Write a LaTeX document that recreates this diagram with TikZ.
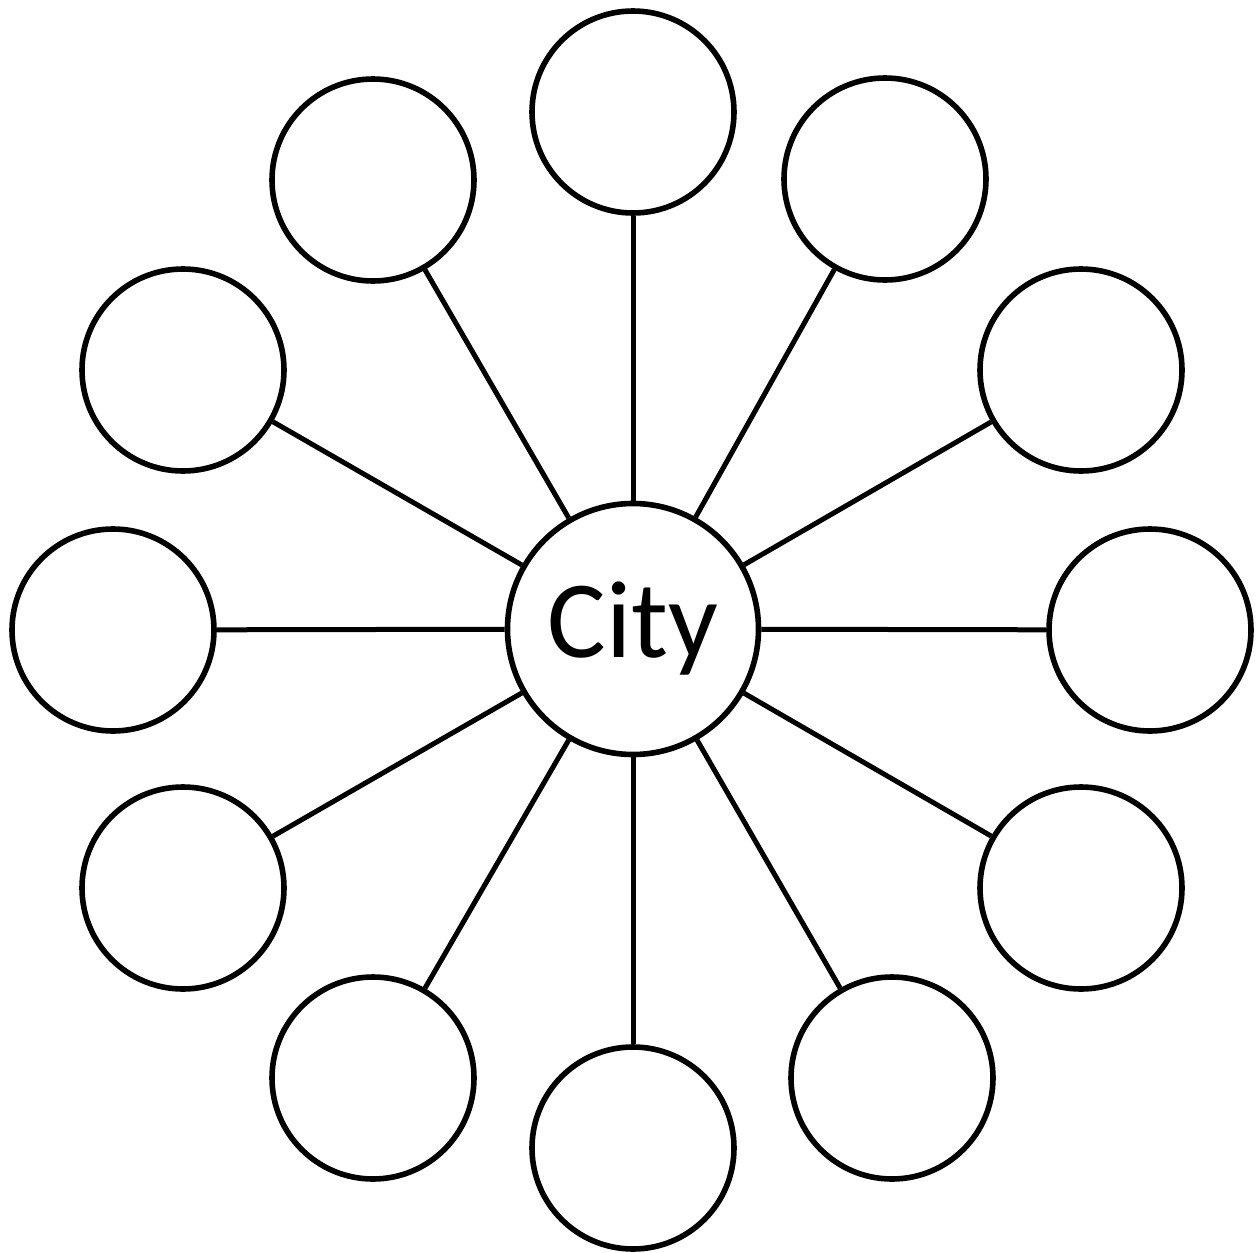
\documentclass[tikz,border=0pt]{standalone}
\usepackage{fontspec}
\setmainfont{Carlito}
\begin{document}
\begin{tikzpicture}[x=0.5pt,y=-0.5pt,
  leaf/.style={circle,draw=black,line width=2.8pt,minimum size=101pt,inner sep=0pt},
  hub/.style={circle,draw=black,line width=2.8pt,minimum size=125.5pt,inner sep=0pt,font=\fontsize{55}{60}\selectfont},
  spoke/.style={line width=2.5pt,draw=black}]
\useasboundingbox (0,0) rectangle (1260,1253);
\node[hub] (c) at (633,629) {City};
\node[leaf] (o1) at (633,112) {};
\node[leaf] (o2) at (885,179) {};
\node[leaf] (o3) at (1081,370) {};
\node[leaf] (o4) at (1150,630) {};
\node[leaf] (o5) at (1081,888) {};
\node[leaf] (o6) at (892,1078) {};
\node[leaf] (o7) at (633,1148) {};
\node[leaf] (o8) at (373,1078) {};
\node[leaf] (o9) at (183,888) {};
\node[leaf] (o10) at (113,630) {};
\node[leaf] (o11) at (183,370) {};
\node[leaf] (o12) at (373,180) {};
\foreach \i in {1,...,12} {\draw[spoke] (c) -- (o\i);}
\end{tikzpicture}
\end{document}
